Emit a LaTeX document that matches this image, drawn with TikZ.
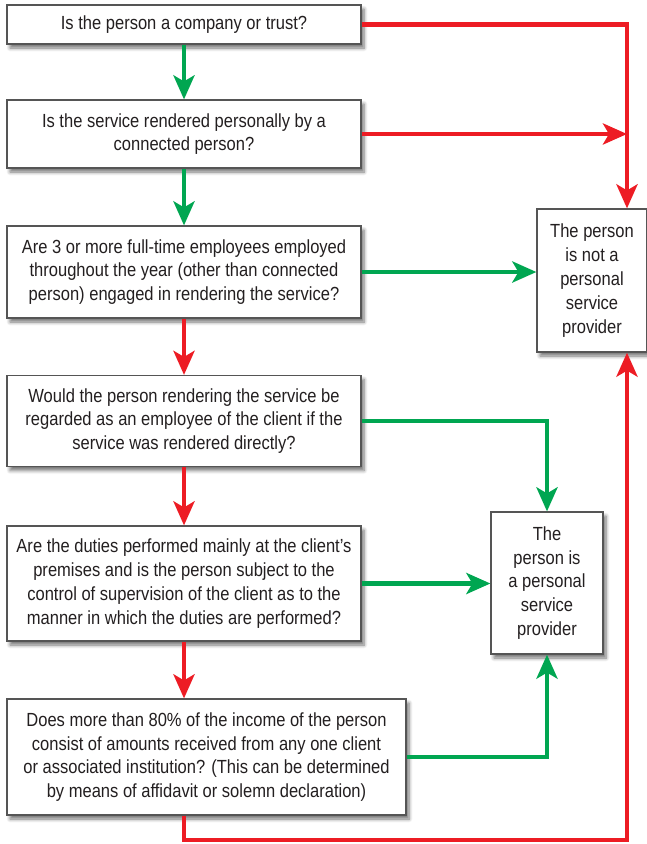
\documentclass[tikz,border=0pt]{standalone}
\usepackage{fontspec}
\setmainfont{Liberation Sans}[FakeStretch=0.87]
\usetikzlibrary{arrows.meta,shadows.blur}
\definecolor{rd}{HTML}{ED1C24}
\definecolor{gn}{HTML}{00A651}
\definecolor{txt}{HTML}{231F20}
\definecolor{boxgray}{HTML}{555555}
\tikzset{
  box/.style={draw=boxgray, line width=1.2pt, fill=white, text=txt, align=center,
    inner sep=0pt, font=\fontsize{19}{23.8}\selectfont,
    blur shadow={shadow xshift=3pt, shadow yshift=-4pt, shadow blur steps=6, shadow blur radius=3.5pt, shadow opacity=55}},
  conn/.style={line width=4.5pt, -{Stealth[length=24pt,width=21pt,inset=6pt]}},
  yes/.style={conn, draw=gn},
  no/.style={conn, draw=rd}
}
\begin{document}
\begin{tikzpicture}[x=1pt,y=-1pt]
\useasboundingbox (0,0) rectangle (647,844);
\node[box, minimum width=354pt, minimum height=39pt] (B1) at (184,24.5) {Is the person a company or trust?};
\node[box, minimum width=354pt, minimum height=68pt] (B2) at (184,134) {Is the service rendered personally by a\\connected person?};
\node[box, minimum width=354pt, minimum height=92pt] (B3) at (184,272) {Are 3 or more full-time employees employed\\throughout the year (other than connected\\person) engaged in rendering the service?};
\node[box, minimum width=354pt, minimum height=91pt] (B4) at (184,421) {Would the person rendering the service be\\regarded as an employee of the client if the\\service was rendered directly?};
\node[box, minimum width=354pt, minimum height=115pt] (B5) at (184,583.5) {Are the duties performed mainly at the client’s\\premises and is the person subject to the\\control of supervision of the client as to the\\manner in which the duties are performed?};
\node[box, minimum width=399pt, minimum height=116pt] (B6) at (206.5,757) {Does more than 80\% of the income of the person\\consist of amounts received from any one client\\or associated institution? (This can be determined\\by means of affidavit or solemn declaration)};
\node[box, minimum width=110pt, minimum height=143pt] (NP) at (592,280.5) {The person\\is not a\\personal\\service\\provider};
\node[box, minimum width=112pt, minimum height=142pt] (P) at (547,583) {The\\person is\\a personal\\service\\provider};
\coordinate (rx) at (627,0);
\coordinate (by) at (0,840);
% vertical chain
\draw[yes] (B1.south) -- (B2.north);
\draw[yes] (B2.south) -- (B3.north);
\draw[no] (B3.south) -- (B4.north);
\draw[no] (B4.south) -- (B5.north);
\draw[no] (B5.south) -- (B5.south |- B6.north);
% to not PSP
\draw[no] (B1.east) -- (B1.east -| rx) -- (rx |- NP.north);
\draw[no] (B2.east) -- (B2.east -| rx);
\draw[yes] (B3.east) -- (B3.east -| NP.west);
\draw[no] (B6.south -| B5.south) -- (B5.south |- by) -- (rx |- by) -- (rx |- NP.south);
% to PSP
\draw[yes] (B4.east) -- (B4.east -| P.north) -- (P.north);
\draw[yes] (B5.east) -- (B5.east -| P.west);
\draw[yes] (B6.east) -- (B6.east -| P.south) -- (P.south);
\end{tikzpicture}
\end{document}
